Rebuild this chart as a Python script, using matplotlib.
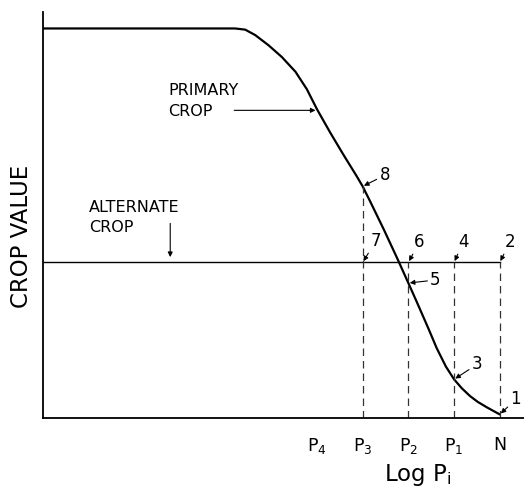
import matplotlib.pyplot as plt

# primary crop value curve (x in log-price units, y in crop value units)
primary_x = [0, 4.21, 4.43, 4.65, 4.94, 5.23, 5.53, 5.78, 6.0, 6.29, 6.58, 6.87, 7.0,
             7.17, 7.46, 7.75, 8.0, 8.19, 8.44, 8.62, 8.82, 9.0, 9.17, 9.35, 9.52,
             9.72, 10.0]
primary_y = [10, 10, 9.97, 9.83, 9.57, 9.27, 8.89, 8.44, 7.93, 7.33, 6.76, 6.21, 5.95,
             5.55, 4.85, 4.12, 3.47, 2.97, 2.30, 1.80, 1.33, 1.0, 0.77, 0.57, 0.42,
             0.28, 0.1]

alternate_value = 4.0

# price levels on the log axis
tick_pos = [6, 7, 8, 9, 10]
tick_labels = [r'P$_4$', r'P$_3$', r'P$_2$', r'P$_\mathregular{1}$', 'N']

# primary crop value at P3, P2, P1, N
primary_at_ticks = [5.95, 3.47, 1.0, 0.1]
dash_x = tick_pos[1:]

fig = plt.figure(figsize=(5.24, 4.94), dpi=100)
ax = fig.add_axes([0.0815, 0.1532, 0.9185, 0.8231])

ax.plot(primary_x, primary_y, color='black', lw=1.6,
        solid_capstyle='round', solid_joinstyle='round')
ax.plot([0, dash_x[-1]], [alternate_value, alternate_value], color='black', lw=1.0)

dash_top = [max(v, alternate_value) for v in primary_at_ticks]
ax.vlines(dash_x, 0, dash_top, colors='#333333', lw=0.9, linestyles=(0, (6, 4)))

ax.set_xlim(0, 10.53)
ax.set_ylim(0, 10.43)
for side in ['top', 'right']:
    ax.spines[side].set_visible(False)
ax.spines['left'].set_linewidth(1.3)
ax.spines['bottom'].set_linewidth(1.3)

ax.set_yticks([])
ax.set_xticks(tick_pos)
ax.set_xticklabels(tick_labels, fontsize=12.5)
ax.tick_params(axis='x', length=0, pad=13)
ax.set_xticks(tick_pos[:1], minor=True)
ax.tick_params(axis='x', which='minor', length=5, width=0.8, direction='out')

ax.set_ylabel('CROP VALUE', fontsize=16.5, va='center')
ax.yaxis.set_label_coords(-0.0436, 0.448)
ax.set_xlabel(r'Log P$_\mathregular{i}$', fontsize=16.5, va='center')
ax.xaxis.set_label_coords(0.78, -0.139)

small_arrow = dict(arrowstyle='-|>', color='black', lw=0.8, mutation_scale=7,
                   shrinkA=0, shrinkB=1)

ax.text(2.75, 8.14, 'PRIMARY\nCROP', fontsize=11.5, ha='left', va='center',
        linespacing=1.45)
ax.annotate('', xy=(6.0, 7.9), xytext=(4.19, 7.9), arrowprops=small_arrow)

ax.text(1.02, 5.15, 'ALTERNATE\nCROP', fontsize=11.5, ha='left', va='center',
        linespacing=1.45)
ax.annotate('', xy=(2.79, 4.1), xytext=(2.79, 5.0), arrowprops=small_arrow)

# numbered points: (label, x, y, text offset in pixels)
points = [
    ('8', 7, primary_at_ticks[0], (22, 11)),
    ('7', 7, alternate_value, (13, 21)),
    ('6', 8, alternate_value, (11, 20)),
    ('4', 9, alternate_value, (9, 20)),
    ('2', 10, alternate_value, (10, 20)),
    ('5', 8, primary_at_ticks[1], (27, 3)),
    ('3', 9, primary_at_ticks[2], (23, 15)),
    ('1', 10, primary_at_ticks[3], (16, 15)),
]
for label, px, py, off in points:
    ax.annotate(label, xy=(px, py), xytext=off, textcoords='offset pixels',
                fontsize=12, ha='center', va='center', arrowprops=small_arrow)

fig.savefig('out.png', dpi=100)
